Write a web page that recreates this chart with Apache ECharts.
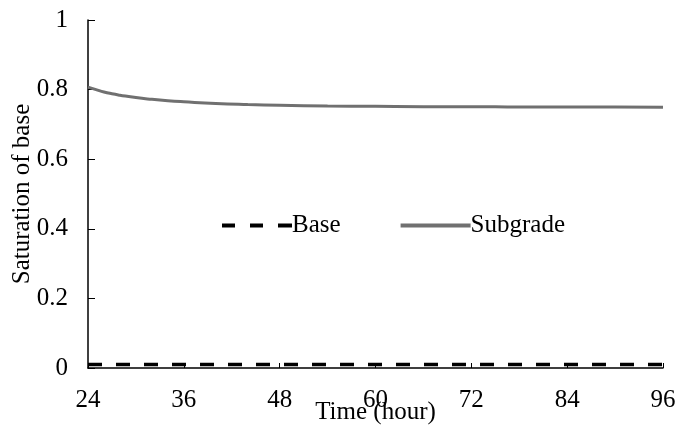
<!DOCTYPE html>
<html><head><meta charset="utf-8">
<script src="https://cdn.jsdelivr.net/npm/echarts@6/dist/echarts.min.js"></script>
<style>html,body{margin:0;padding:0;background:#fff}#c{width:675px;height:427px}</style>
</head><body><div id="c"></div>
<script>
var timeHours = [24, 25, 26, 27, 28, 30, 32, 34, 36, 40, 44, 48, 54, 60, 66, 72, 78, 84, 90, 96];
var baseSaturation = [0.01, 0.01, 0.01, 0.01, 0.01, 0.01, 0.01, 0.01, 0.01, 0.01, 0.01, 0.01, 0.01, 0.01, 0.01, 0.01, 0.01, 0.01, 0.01, 0.01];
var subgradeSaturation = [0.807, 0.800, 0.793, 0.788, 0.784, 0.777, 0.772, 0.768, 0.765, 0.760, 0.757, 0.755, 0.753, 0.752, 0.751, 0.751, 0.750, 0.750, 0.750, 0.749];
var xTicks = [24, 36, 48, 60, 72, 84, 96];
var yTicks = [0, 0.2, 0.4, 0.6, 0.8, 1];

function pairs(xs, ys){ return xs.map(function(x,i){return [x, ys[i]];}); }
var font = 'Liberation Serif';
var fs = 25;
var chart = echarts.init(document.getElementById('c'));
chart.setOption({
  animation: false,
  textStyle: {fontFamily: font},
  grid: {left: 88, right: 12, top: 20, bottom: 59, containLabel: false, outerBoundsMode: 'none'},
  legend: {
    left: 217, top: 208, itemWidth: 70, itemHeight: 4, itemGap: 60,
    textStyle: {fontFamily: font, fontSize: fs, color: '#000', padding: [0, 0, 0, -5]},
    data: [
      {name: 'Base', icon: 'path://M0,0h13v4H0z M28,0h13v4H28z M56,0h14v4H56z', itemStyle: {color: '#000'}},
      {name: 'Subgrade', icon: 'rect', itemStyle: {color: '#707070'}}
    ]
  },
  xAxis: {
    type: 'value', min: 24, max: 96, interval: 12,
    name: 'Time (hour)', nameLocation: 'middle', nameGap: 32, nameMoveOverlap: false,
    nameTextStyle: {fontFamily: font, fontSize: fs, color: '#000'},
    axisLine: {show: true, lineStyle: {color: '#000', width: 1.5}},
    axisTick: {show: true, inside: true, length: 5, lineStyle: {color: '#000'}},
    axisLabel: {fontFamily: font, fontSize: fs, color: '#000', margin: 20,
      formatter: function(v){ return xTicks.indexOf(v) >= 0 ? String(v) : ''; }},
    splitLine: {show: false}
  },
  yAxis: {
    type: 'value', min: 0, max: 1, interval: 0.2,
    name: 'Saturation of base', nameLocation: 'middle', nameGap: 53, nameRotate: 90, nameMoveOverlap: false,
    nameTextStyle: {fontFamily: font, fontSize: fs, color: '#000'},
    axisLine: {show: true, lineStyle: {color: '#000', width: 1.5}},
    axisTick: {show: true, inside: true, length: 7, lineStyle: {color: '#000'}},
    axisLabel: {fontFamily: font, fontSize: fs, color: '#000', margin: 20,
      formatter: function(v){ var r = Math.round(v*10)/10; return yTicks.indexOf(r) >= 0 ? String(r) : ''; }},
    splitLine: {show: false}
  },
  series: [
    {name: 'Base', type: 'line', data: pairs(timeHours, baseSaturation), symbol: 'none', smooth: false,
     lineStyle: {color: '#000', width: 3.5, type: [14, 14]}, itemStyle: {color: '#000'}},
    {name: 'Subgrade', type: 'line', data: pairs(timeHours, subgradeSaturation), symbol: 'none', smooth: true,
     lineStyle: {color: '#707070', width: 3}, itemStyle: {color: '#707070'}}
  ]
});
</script></body></html>
